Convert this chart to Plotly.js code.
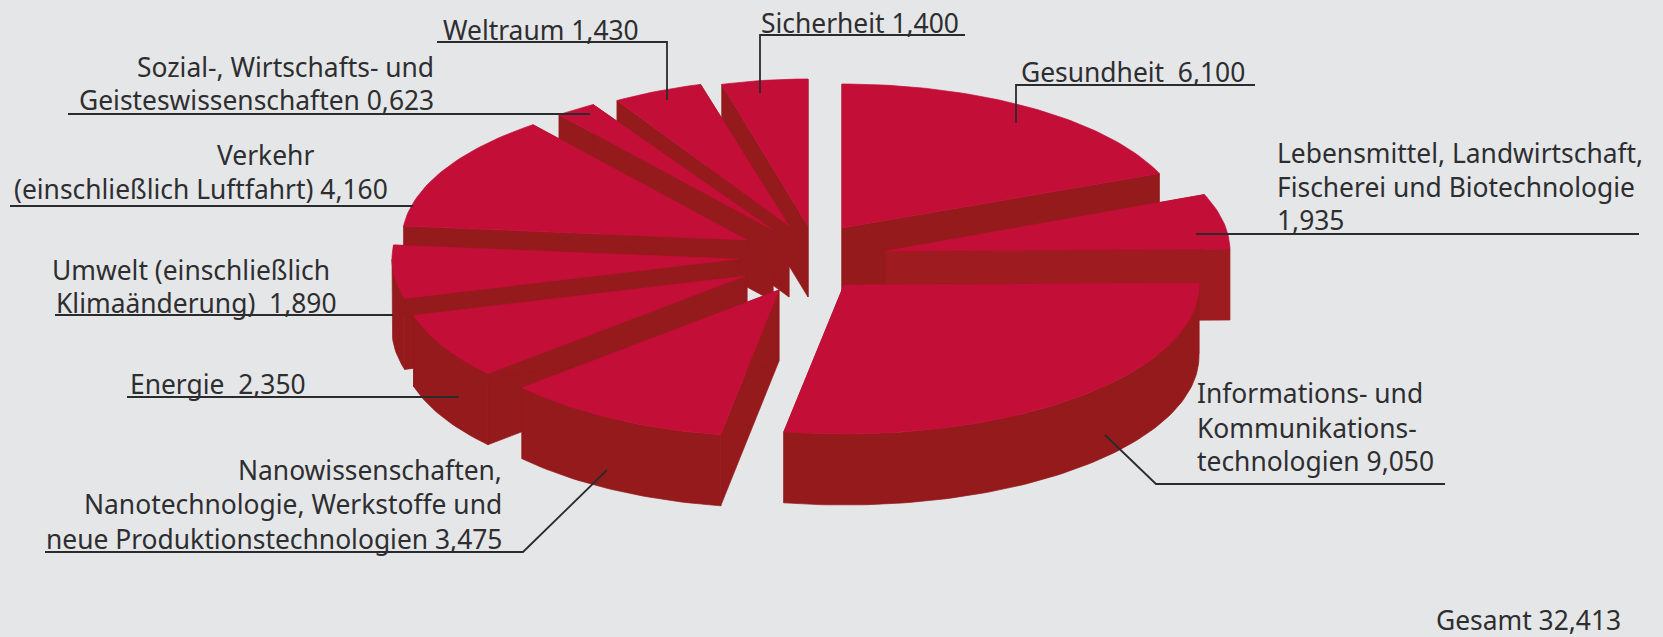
<!DOCTYPE html>
<html><head><meta charset="utf-8">
<script src="https://cdn.plot.ly/plotly-3.0.1.min.js"></script>
<style>html,body{margin:0;padding:0;background:#E5E6E8;overflow:hidden}</style>
</head><body><div id="chart" style="width:1663px;height:637px"></div>
<script>
// ---- data, clockwise from 12 o'clock ----
const categories = ["Gesundheit  {v}","Lebensmittel, Landwirtschaft,\nFischerei und Biotechnologie\n{v}","Informations- und\nKommunikations-\ntechnologien {v}","Nanowissenschaften,\nNanotechnologie, Werkstoffe und\nneue Produktionstechnologien {v}","Energie  {v}","Umwelt (einschließlich\nKlimaänderung)  {v}","Verkehr\n(einschließlich Luftfahrt) {v}","Sozial-, Wirtschafts- und\nGeisteswissenschaften {v}","Weltraum {v}","Sicherheit {v}"];
const values = [6.100,1.935,9.050,3.475,2.350,1.890,4.160,0.623,1.430,1.400];
const totalLabel = "Gesamt";
const totalValue = 32.413;

// ---- exploded-pie geometry (apex x, apex y, radius x, radius y) per slice ----
const sliceGeom = [[842,228,343,144],[886,251,344,149],[844,285,355,149],[779,290,344,147],[745,276,344,147],[738,259,346,147],[747,240,345,147],[773,230,345,147],[789,226,330,147],[808,226,322,147]];
const depth = 71;
const drawOrder = [9,8,7,6,5,0,1,4,3,2];
const topColor = "#C30F38", wallColor = "#951A1C", lightWall = "#9E1B20";

// ---- label placement: [anchor, x, baselines...] ----
const labelPos = [["left",1020,80],["left",1276,161,195,228],["left",1196,401,436,469],["right",503,478,512,547],["left",129,392],["left",[51,55],278,311],["left",[216,13],163,197],["right",435,75,108],["left",442,38],["left",760,31]];
const leaders = [[[1016,123],[1016,85],[1255,85]],[[1196,234],[1639,234]],[[1105,435],[1156,484],[1445,484]],[[607,470],[523,552],[45,552]],[[459,397],[127,397]],[[393,315],[55,315]],[[413,206],[10,206]],[[590,114],[68,114]],[[667,100],[667,42],[437,42]],[[760,93],[760,35],[965,35]]];
const fontSize = 26.4, fontFamily = "'Noto Sans', sans-serif", textColor = "#2E2E30";

const sum = values.reduce((a,b)=>a+b,0);
const traces = [];
function add(xs,ys,color,name){
  traces.push({type:"scatter",mode:"lines",x:xs,y:ys,fill:"toself",fillcolor:color,line:{width:0.7,color:color},name:name,hoverinfo:"name",showlegend:false});
}
function pt(g,a){ return [g[0]+g[2]*Math.sin(a), g[1]-g[3]*Math.cos(a)]; }
const starts=[]; let acc=0; values.forEach(v=>{starts.push(acc);acc+=v;});
drawOrder.forEach(i=>{
  const g=sliceGeom[i], a0=starts[i]/sum*2*Math.PI, a1=(starts[i]+values[i])/sum*2*Math.PI;
  const wall = i===1 ? lightWall : wallColor;
  const nm = categories[i].replace(/\n/g," ").replace("{v}",values[i].toFixed(3).replace(".",","));
  const apex=[g[0],g[1]];
  [a0,a1].forEach(a=>{
    const p=pt(g,a);
    add([apex[0],p[0],p[0],apex[0],apex[0]],[apex[1],p[1],p[1]+depth,apex[1]+depth,apex[1]],wall,nm);
  });
  const w0=Math.max(a0,Math.PI/2), w1=Math.min(a1,1.5*Math.PI);
  if(w1>w0){
    const n=Math.ceil((w1-w0)/0.02), xs=[], ys=[];
    for(let k=0;k<=n;k++){const p=pt(g,w0+(w1-w0)*k/n);xs.push(p[0]);ys.push(p[1]);}
    for(let k=n;k>=0;k--){const p=pt(g,w0+(w1-w0)*k/n);xs.push(p[0]);ys.push(p[1]+depth);}
    xs.push(xs[0]);ys.push(ys[0]);
    add(xs,ys,wall,nm);
  }
  const n=Math.ceil((a1-a0)/0.02), xs=[apex[0]], ys=[apex[1]];
  for(let k=0;k<=n;k++){const p=pt(g,a0+(a1-a0)*k/n);xs.push(p[0]);ys.push(p[1]);}
  xs.push(apex[0]);ys.push(apex[1]);
  add(xs,ys,topColor,nm);
});

const annotations=[];
function txt(t,x,base,anchor){
  annotations.push({x:x,y:base-fontSize*0.30,xref:"x",yref:"y",text:t,showarrow:false,xanchor:anchor,yanchor:"middle",align:anchor,font:{family:fontFamily,size:fontSize,color:textColor},borderpad:0});
}
categories.forEach((c,i)=>{
  const lines=c.replace("{v}",values[i].toFixed(3).replace(".",",")).split("\n");
  const lp=labelPos[i];
  lines.forEach((l,j)=>txt(l,Array.isArray(lp[1])?lp[1][j]:lp[1],lp[2+j],lp[0]));
});
txt(totalLabel+" "+totalValue.toFixed(3).replace(".",","),1622,628,"right");

const shapes=leaders.map(p=>({type:"path",xref:"x",yref:"y",layer:"above",path:"M"+p.map(q=>q[0]+","+q[1]).join("L"),line:{color:"#2B2B2D",width:1.8},fillcolor:"rgba(0,0,0,0)"}));

Plotly.newPlot("chart",traces,{
  width:1663,height:637,margin:{l:0,r:0,t:0,b:0},
  paper_bgcolor:"#E5E6E8",plot_bgcolor:"#E5E6E8",showlegend:false,
  xaxis:{range:[0,1663],visible:false,fixedrange:true},
  yaxis:{range:[637,0],visible:false,fixedrange:true},
  annotations:annotations,shapes:shapes
},{displayModeBar:false,staticPlot:true});
</script></body></html>
